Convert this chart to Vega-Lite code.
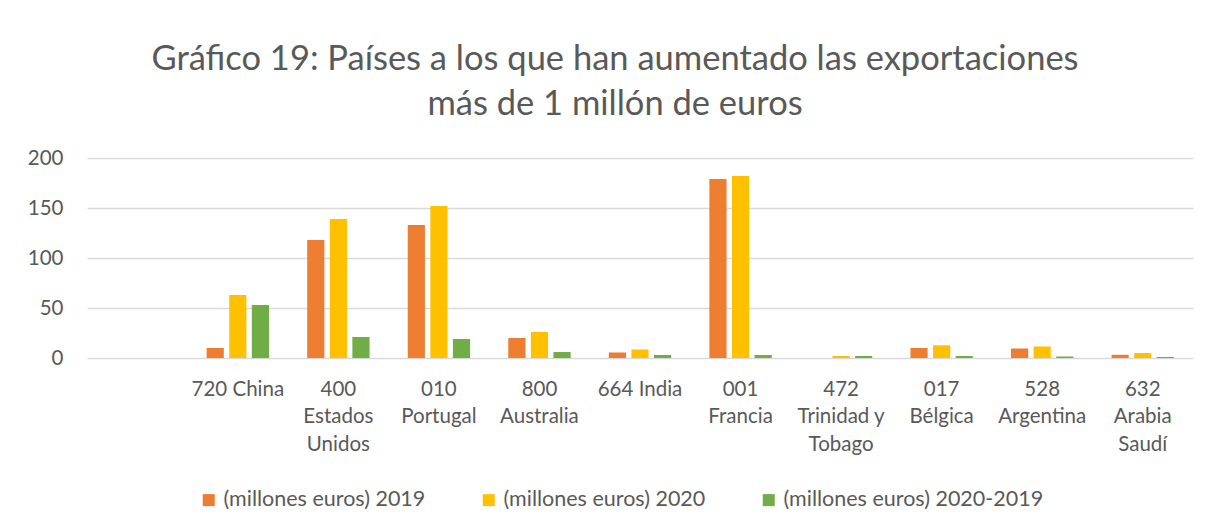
{
  "$schema": "https://vega.github.io/schema/vega-lite/v6.json",
  "width": 1106,
  "height": 200,
  "autosize": {"type": "none"},
  "padding": {"left": 87, "top": 158, "right": 16, "bottom": 173},
  "background": "white",
  "title": {
    "text": ["Gráfico 19: Países a los que han aumentado las exportaciones", "más de 1 millón de euros"],
    "font": "Lato",
    "fontSize": 34.5,
    "fontWeight": "normal",
    "color": "#595959",
    "anchor": "middle",
    "dx": -25,
    "offset": 26,
    "lineHeight": 45
  },
  "data": {
    "values": [
      {"pais": "720 China", "serie": "(millones euros) 2019", "valor": 10},
      {"pais": "720 China", "serie": "(millones euros) 2020", "valor": 63},
      {"pais": "720 China", "serie": "(millones euros) 2020-2019", "valor": 53},
      {"pais": "400|Estados|Unidos", "serie": "(millones euros) 2019", "valor": 118},
      {"pais": "400|Estados|Unidos", "serie": "(millones euros) 2020", "valor": 139},
      {"pais": "400|Estados|Unidos", "serie": "(millones euros) 2020-2019", "valor": 21},
      {"pais": "010|Portugal", "serie": "(millones euros) 2019", "valor": 133},
      {"pais": "010|Portugal", "serie": "(millones euros) 2020", "valor": 152},
      {"pais": "010|Portugal", "serie": "(millones euros) 2020-2019", "valor": 19},
      {"pais": "800|Australia", "serie": "(millones euros) 2019", "valor": 20},
      {"pais": "800|Australia", "serie": "(millones euros) 2020", "valor": 26},
      {"pais": "800|Australia", "serie": "(millones euros) 2020-2019", "valor": 6},
      {"pais": "664 India", "serie": "(millones euros) 2019", "valor": 5.5},
      {"pais": "664 India", "serie": "(millones euros) 2020", "valor": 8.5},
      {"pais": "664 India", "serie": "(millones euros) 2020-2019", "valor": 3},
      {"pais": "001|Francia", "serie": "(millones euros) 2019", "valor": 179},
      {"pais": "001|Francia", "serie": "(millones euros) 2020", "valor": 182},
      {"pais": "001|Francia", "serie": "(millones euros) 2020-2019", "valor": 3},
      {"pais": "472|Trinidad y|Tobago", "serie": "(millones euros) 2019", "valor": 0},
      {"pais": "472|Trinidad y|Tobago", "serie": "(millones euros) 2020", "valor": 2},
      {"pais": "472|Trinidad y|Tobago", "serie": "(millones euros) 2020-2019", "valor": 2},
      {"pais": "017|Bélgica", "serie": "(millones euros) 2019", "valor": 10},
      {"pais": "017|Bélgica", "serie": "(millones euros) 2020", "valor": 12.7},
      {"pais": "017|Bélgica", "serie": "(millones euros) 2020-2019", "valor": 2},
      {"pais": "528|Argentina", "serie": "(millones euros) 2019", "valor": 9.5},
      {"pais": "528|Argentina", "serie": "(millones euros) 2020", "valor": 11.5},
      {"pais": "528|Argentina", "serie": "(millones euros) 2020-2019", "valor": 1.5},
      {"pais": "632|Arabia|Saudí", "serie": "(millones euros) 2019", "valor": 3.2},
      {"pais": "632|Arabia|Saudí", "serie": "(millones euros) 2020", "valor": 5},
      {"pais": "632|Arabia|Saudí", "serie": "(millones euros) 2020-2019", "valor": 1}
    ]
  },
  "mark": {"type": "bar"},
  "encoding": {
    "x": {
      "field": "pais",
      "type": "nominal",
      "scale": {
        "domain": [" ", "720 China", "400|Estados|Unidos", "010|Portugal", "800|Australia", "664 India", "001|Francia", "472|Trinidad y|Tobago", "017|Bélgica", "528|Argentina", "632|Arabia|Saudí"],
        "paddingInner": 0.38,
        "paddingOuter": 0.19
      },
      "axis": {
        "title": null,
        "labelExpr": "split(datum.value, '|')",
        "labelAngle": 0,
        "labelFont": "Lato",
        "labelFontSize": 20.5,
        "labelColor": "#595959",
        "labelLineHeight": 27.5,
        "labelPadding": 21,
        "labelBaseline": "top",
        "ticks": false,
        "domain": false,
        "labelLimit": 200
      }
    },
    "xOffset": {
      "field": "serie",
      "type": "nominal",
      "scale": {"paddingInner": 0.24, "paddingOuter": 0}
    },
    "y": {
      "field": "valor",
      "type": "quantitative",
      "scale": {"domain": [0, 200], "nice": false},
      "axis": {
        "title": null,
        "values": [0, 50, 100, 150, 200],
        "labelFont": "Lato",
        "labelFontSize": 20.5,
        "labelColor": "#595959",
        "labelPadding": 24,
        "ticks": false,
        "domain": false,
        "gridColor": "#d9d9d9",
        "gridWidth": 1.3
      }
    },
    "color": {
      "field": "serie",
      "type": "nominal",
      "scale": {
        "domain": ["(millones euros) 2019", "(millones euros) 2020", "(millones euros) 2020-2019"],
        "range": ["#ED7D31", "#FFC000", "#70AD47"]
      },
      "legend": {
        "title": null,
        "orient": "none",
        "direction": "horizontal",
        "columns": 3,
        "legendX": 111,
        "legendY": 331,
        "symbolType": "square",
        "symbolSize": 144,
        "symbolStrokeWidth": 0,
        "labelFont": "Lato",
        "labelFontSize": 21.5,
        "labelColor": "#595959",
        "labelOffset": 4,
        "labelLimit": 400,
        "columnPadding": 52
      }
    }
  },
  "config": {
    "view": {"stroke": null}
  }
}
